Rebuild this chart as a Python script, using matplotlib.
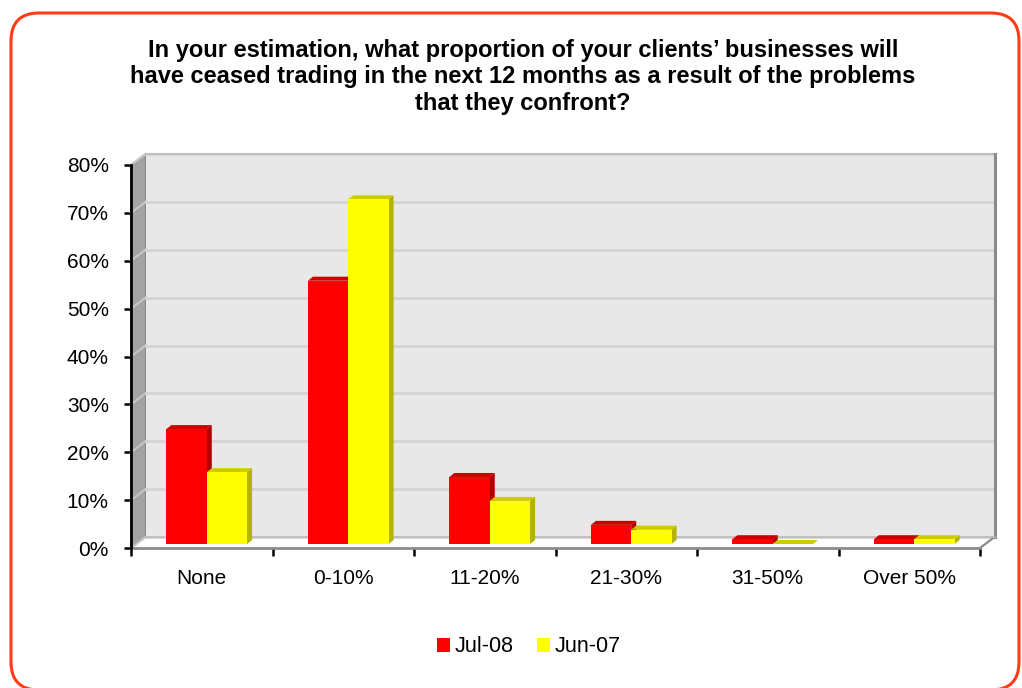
import matplotlib
matplotlib.use("Agg")
import matplotlib.pyplot as plt
from matplotlib.patches import Polygon, Rectangle, FancyBboxPatch
from matplotlib.lines import Line2D

plt.rcParams['font.family'] = ['Liberation Sans', 'DejaVu Sans']

# ---- data ----
categories = ["None", "0-10%", "11-20%", "21-30%", "31-50%", "Over 50%"]
series_names = ["Jul-08", "Jun-07"]
jul_08 = [24, 55, 14, 4, 1, 1]
jun_07 = [15, 72, 9, 3, 0, 1]
y_ticks = [0, 10, 20, 30, 40, 50, 60, 70, 80]
y_labels = ["0%", "10%", "20%", "30%", "40%", "50%", "60%", "70%", "80%"]
title = ("In your estimation, what proportion of your clients\u2019 businesses will\n"
         "have ceased trading in the next 12 months as a result of the problems\n"
         "that they confront?")

W, H, DPI = 1022, 688, 100
fig = plt.figure(figsize=(W / DPI, H / DPI), dpi=DPI)
fig.patch.set_facecolor("white")

# plot region in pixels (front plane)
x0_px, x1_px = 131, 980
y0_px, y1_px = 548, 165
ax = fig.add_axes([x0_px / W, (H - y0_px) / H, (x1_px - x0_px) / W, (y0_px - y1_px) / H])
n = len(categories)
ymax = 80
ax.set_xlim(0, n)
ax.set_ylim(0, ymax)
ax.set_facecolor("none")
for s in ax.spines.values():
    s.set_visible(False)

ux = n / (x1_px - x0_px)      # data units per pixel (x)
uy = ymax / (y0_px - y1_px)   # data units per pixel (y)

# depth offsets for the pseudo-3D walls and bars
bx, by = 14.5 * ux, 11 * uy   # back wall offset
fx, fy = 5 * ux, 4 * uy       # bar front face offset
dx, dy = 5 * ux, 4 * uy       # bar depth

# left wall
ax.add_patch(Polygon([(0, 0), (0, ymax), (bx, ymax + by), (bx, by)],
                     closed=True, facecolor="#a3a3a3", edgecolor="#8c8c8c",
                     lw=1, clip_on=False, zorder=1))
# back wall
ax.add_patch(Rectangle((bx, by), n, ymax, facecolor="#e8e8e8",
                       edgecolor="none", clip_on=False, zorder=1))
# floor
ax.add_patch(Polygon([(0, 0), (n, 0), (n + bx, by), (bx, by)], closed=True,
                     facecolor="white", edgecolor="none", clip_on=False, zorder=1))

# gridlines on left wall and back wall
for v in y_ticks:
    ax.add_line(Line2D([0, bx], [v, v + by], color="#c4c4c4", lw=1.6,
                       clip_on=False, zorder=2))
    ax.add_line(Line2D([bx, n + bx], [v + by, v + by], color="#d4d4d4", lw=2,
                       clip_on=False, zorder=2))

# wall / floor edges
ax.add_line(Line2D([bx, n + bx], [ymax + by, ymax + by], color="#c0c0c0", lw=1.5,
                   clip_on=False, zorder=2))
ax.add_line(Line2D([n + bx, n + bx], [by, ymax + by], color="#8a8a8a", lw=2.2,
                   clip_on=False, zorder=2))
ax.add_line(Line2D([n, n + bx], [0, by], color="#8a8a8a", lw=1.6,
                   clip_on=False, zorder=2))
ax.add_line(Line2D([bx, n + bx], [by, by], color="#bdbdbd", lw=1.2,
                   clip_on=False, zorder=2))

# bars
bar_w = 0.285
styles = [
    dict(front="#ff0000", top="#cc0000", side="#b00000"),
    dict(front="#ffff00", top="#cccc00", side="#b3b300"),
]
for i in range(n):
    c = i + 0.5
    for k, vals in enumerate([jul_08, jun_07]):
        v = vals[i]
        st = styles[k]
        xl = c - bar_w + k * bar_w + fx
        xr = xl + bar_w
        yb = fy
        yt = v + fy
        z = 3 + k
        ax.add_patch(Polygon([(xr, yb), (xr + dx, yb + dy), (xr + dx, yt + dy), (xr, yt)],
                             closed=True, facecolor=st["side"], edgecolor="none",
                             clip_on=False, zorder=z))
        ax.add_patch(Polygon([(xl, yt), (xr, yt), (xr + dx, yt + dy), (xl + dx, yt + dy)],
                             closed=True, facecolor=st["top"], edgecolor="none",
                             clip_on=False, zorder=z))
        ax.add_patch(Rectangle((xl, yb), bar_w, v, facecolor=st["front"],
                               edgecolor="none", clip_on=False, zorder=z))

# axes lines
ax.add_line(Line2D([0, n], [0, 0], color="#8c8c8c", lw=2, clip_on=False, zorder=6))
ax.add_line(Line2D([0, 0], [0, ymax], color="black", lw=2, clip_on=False, zorder=6))

# ticks
ax.set_yticks(y_ticks)
ax.set_yticklabels(y_labels, fontsize=15)
ax.tick_params(axis="y", direction="out", length=5, width=1.8, pad=11, color="black")
ax.set_xticks([i + 0.5 for i in range(n)])
ax.set_xticklabels(categories, fontsize=15)
ax.set_xticks(list(range(n + 1)), minor=True)
ax.tick_params(axis="x", which="major", length=0, pad=15)
ax.tick_params(axis="x", which="minor", direction="out", length=6, width=1.8, color="black")

# title
fig.text(523 / W, 1 - 77 / H, title, ha="center", va="center", fontsize=17,
         fontweight="bold", linespacing=1.2)

# legend
handles = [Rectangle((0, 0), 1, 1, facecolor=s["front"], edgecolor="none") for s in styles]
fig.legend(handles, series_names, loc="center", bbox_to_anchor=(529 / W, 1 - 647 / H),
           ncol=2, frameon=False, fontsize=15.5, handlelength=0.6, handleheight=0.6,
           handletextpad=0.2, columnspacing=1.1)

# rounded frame around the whole chart
fig.patches.append(FancyBboxPatch((0.11, -0.02), 10.08, 6.75 + 0.02,
                                  boxstyle="round,pad=0,rounding_size=0.28",
                                  transform=fig.dpi_scale_trans, facecolor="none",
                                  edgecolor="#ff3c14", lw=2.2, zorder=10))

fig.savefig("out.png", dpi=DPI)
